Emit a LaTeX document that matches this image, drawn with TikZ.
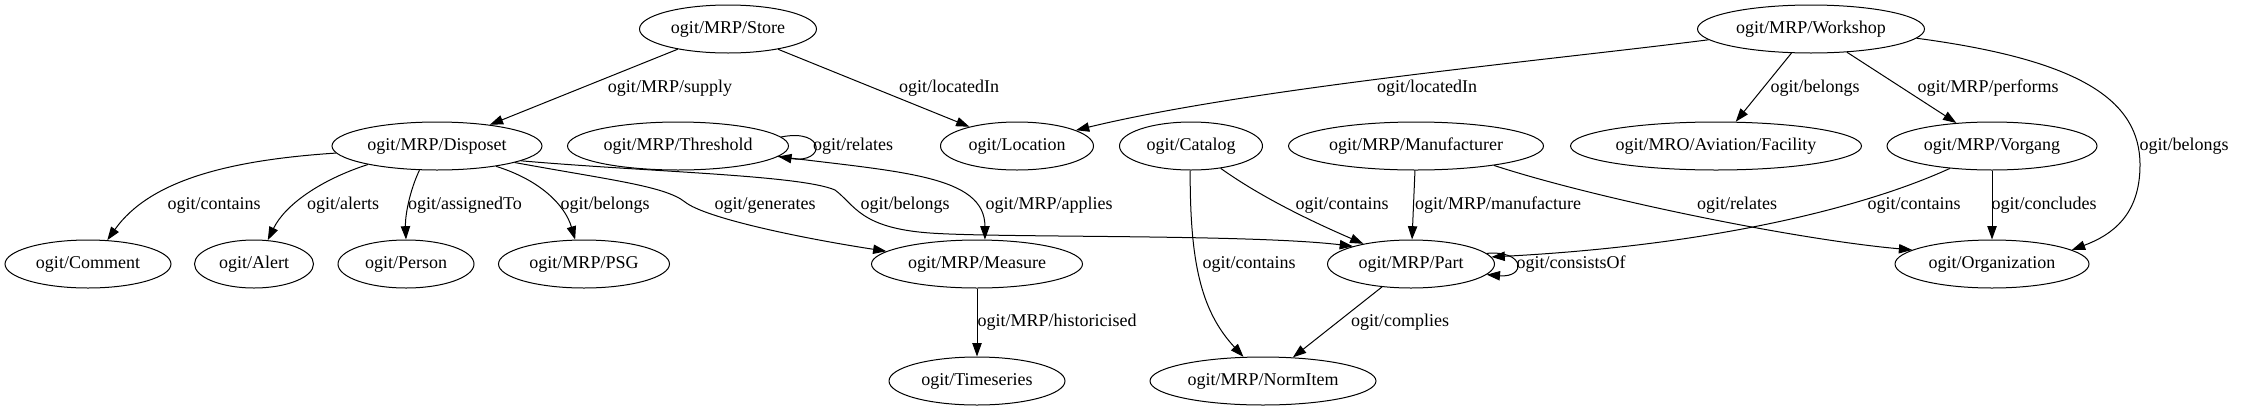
\documentclass[tikz,border=0pt]{standalone}
\usepackage{fontspec}
\setmainfont{Liberation Serif}
\usetikzlibrary{arrows.meta,shapes.geometric}
\newdimen\pxu \pxu=0.75pt
\tikzset{
  gnode/.style={ellipse,draw,line width=0.75pt,inner sep=0pt,minimum height=48\pxu,font=\fontsize{13.5}{16}\selectfont},
  elab/.style={inner sep=0pt,font=\fontsize{13.5}{16}\selectfont},
  e/.style={line width=0.75pt,-{Triangle[length=10pt,width=7pt]}}
}
\begin{document}
\begin{tikzpicture}[x=0.75pt,y=-0.75pt]
\useasboundingbox (0,0) rectangle (2255,411);
% nodes
\node[gnode,minimum width=177\pxu] (Store) at (728,29) {ogit/MRP/Store};
\node[gnode,minimum width=227\pxu] (Workshop) at (1811,29) {ogit/MRP/Workshop};
\node[gnode,minimum width=210\pxu] (Disposet) at (437,146) {ogit/MRP/Disposet};
\node[gnode,minimum width=221\pxu] (Threshold) at (678,146) {ogit/MRP/Threshold};
\node[gnode,minimum width=153\pxu] (Location) at (1017,146) {ogit/Location};
\node[gnode,minimum width=143\pxu] (Catalog) at (1191,146) {ogit/Catalog};
\node[gnode,minimum width=255\pxu] (Manufacturer) at (1416,146) {ogit/MRP/Manufacturer};
\node[gnode,minimum width=291\pxu] (Facility) at (1716,146) {ogit/MRO/Aviation/Facility};
\node[gnode,minimum width=210\pxu] (Vorgang) at (1992,146) {ogit/MRP/Vorgang};
\node[gnode,minimum width=166\pxu] (Comment) at (88,264) {ogit/Comment};
\node[gnode,minimum width=119\pxu] (Alert) at (254,264) {ogit/Alert};
\node[gnode,minimum width=136\pxu] (Person) at (406,264) {ogit/Person};
\node[gnode,minimum width=171\pxu] (PSG) at (584,264) {ogit/MRP/PSG};
\node[gnode,minimum width=211\pxu] (Measure) at (977,264) {ogit/MRP/Measure};
\node[gnode,minimum width=167\pxu] (Part) at (1411,264) {ogit/MRP/Part};
\node[gnode,minimum width=194\pxu] (Organization) at (1992,264) {ogit/Organization};
\node[gnode,minimum width=176\pxu] (Timeseries) at (977,381) {ogit/Timeseries};
\node[gnode,minimum width=226\pxu] (NormItem) at (1263,381) {ogit/MRP/NormItem};
% edges
\draw[e] (Store) -- (Disposet);
\draw[e] (Store) -- (Location);
\draw[e] (Workshop.186) .. controls (1550,60) and (1250,88) .. (Location.15);
\draw[e] (Workshop) -- (Facility);
\draw[e] (Workshop) -- (Vorgang);
\draw[e] (Workshop.-5) .. controls (2080,60) and (2140,100) .. (2140,165) .. controls (2140,215) and (2112,235) .. (Organization.10);
\draw[e] (Disposet.184) .. controls (230,160) and (150,180) .. (Comment.51);
\draw[e] (Disposet.195) .. controls (320,180) and (285,205) .. (Alert.60);
\draw[e] (Disposet.234) .. controls (410,190) and (405,215) .. (Person.north);
\draw[e] (Disposet.-19) .. controls (540,180) and (565,205) .. (PSG.110);
\draw[e] (Disposet.-12) .. controls (610,180) and (665,186) .. (685,202) .. controls (705,218) and (800,238) .. (Measure.172);
\draw[e] (Disposet.-10) .. controls (650,172) and (800,175) .. (835,190) .. controls (855,205) and (860,228) .. (930,233) .. controls (1000,238) and (1250,234) .. (Part.163);
\draw[e] (Threshold.5) .. controls (826,128) and (826,164) .. (Threshold.-6);
\draw[e] (Threshold.-6) .. controls (900,172) and (985,175) .. (Measure.72);
\draw[e] (Catalog.-37) .. controls (1265,200) and (1320,225) .. (Part.157);
\draw[e] (Catalog.268) .. controls (1190,260) and (1200,310) .. (NormItem.129);
\draw[e] (Manufacturer) -- (Part);
\draw[e] (Manufacturer.-14) .. controls (1600,200) and (1800,240) .. (Organization.170);
\draw[e] (Vorgang.208) .. controls (1870,205) and (1720,245) .. (Part.5);
\draw[e] (Vorgang) -- (Organization);
\draw[e] (Part.8) .. controls (1526,250) and (1526,278) .. (Part.-8);
\draw[e] (Part) -- (NormItem);
\draw[e] (Measure) -- (Timeseries);
% edge labels
\node[elab] (l1) at (670,88) {ogit/MRP/supply};
\node[elab] (l2) at (949,88) {ogit/locatedIn};
\node[elab] (l3) at (1427,88) {ogit/locatedIn};
\node[elab] (l4) at (1815,88) {ogit/belongs};
\node[elab] (l5) at (1988,88) {ogit/MRP/performs};
\node[elab] (l6) at (2184,146) {ogit/belongs};
\node[elab] (l7) at (214,205) {ogit/contains};
\node[elab] (l8) at (343,205) {ogit/alerts};
\node[elab] (l9) at (465,205) {ogit/assignedTo};
\node[elab] (l10) at (605,205) {ogit/belongs};
\node[elab] (l11) at (765,205) {ogit/generates};
\node[elab] (l12) at (905,205) {ogit/belongs};
\node[elab] (l13) at (853,146) {ogit/relates};
\node[elab] (l14) at (1049,205) {ogit/MRP/applies};
\node[elab] (l15) at (1342,205) {ogit/contains};
\node[elab] (l16) at (1249,264) {ogit/contains};
\node[elab] (l17) at (1498,205) {ogit/MRP/manufacture};
\node[elab] (l18) at (1737,205) {ogit/relates};
\node[elab] (l19) at (1914,205) {ogit/contains};
\node[elab] (l20) at (2044,205) {ogit/concludes};
\node[elab] (l21) at (1571,264) {ogit/consistsOf};
\node[elab] (l22) at (1400,322) {ogit/complies};
\node[elab] (l23) at (1057,322) {ogit/MRP/historicised};
\end{tikzpicture}
\end{document}
